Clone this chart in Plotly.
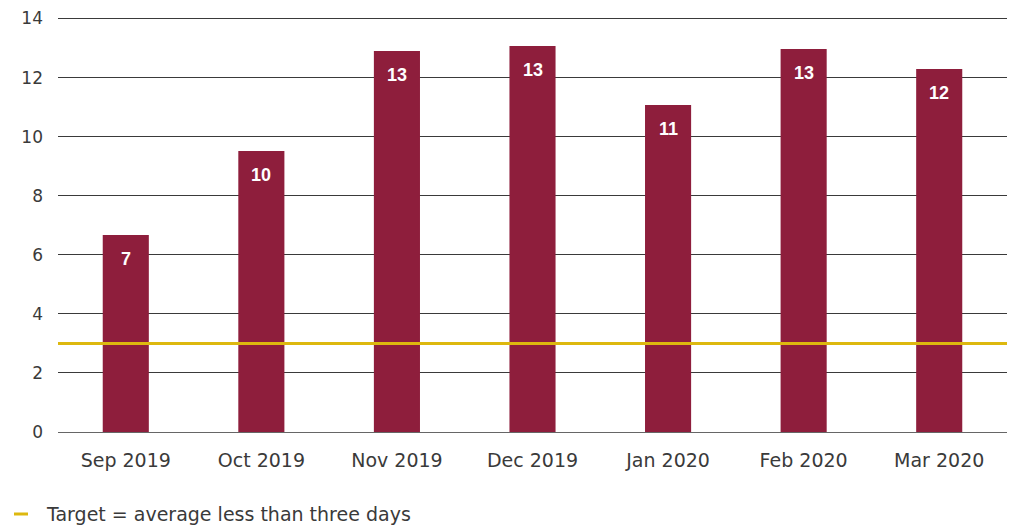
import plotly.graph_objects as go

# Monthly average (days) and the target threshold
months = ["Sep 2019", "Oct 2019", "Nov 2019", "Dec 2019", "Jan 2020", "Feb 2020", "Mar 2020"]
avg_days = [6.67, 9.51, 12.9, 13.07, 11.07, 12.97, 12.29]
target_days = 3
y_ticks = [0, 2, 4, 6, 8, 10, 12, 14]
legend_text = "Target = average less than three days"

BAR_COLOR = "#8E1E3C"
TARGET_COLOR = "#DDB80F"
TEXT_COLOR = "#3a3a3a"
FONT = "DejaVu Sans, Arial, sans-serif"
LABEL_FONT = "Liberation Sans, Arial, sans-serif"

fig = go.Figure()
fig.add_trace(go.Bar(
    x=months,
    y=avg_days,
    marker=dict(color=BAR_COLOR, line=dict(width=0)),
    width=0.34,
    showlegend=False,
    hoverinfo="skip",
))

# Rounded value labels inside the top of each bar
for m, v in zip(months, avg_days):
    fig.add_annotation(
        x=m, y=v, text=f"<b>{v:.0f}</b>", showarrow=False,
        yanchor="middle", yshift=-24,
        font=dict(family=LABEL_FONT, size=18, color="white"),
    )

# Target line across the plot
fig.add_shape(
    type="line", xref="paper", x0=0, x1=1, yref="y", y0=target_days, y1=target_days,
    line=dict(color=TARGET_COLOR, width=3), layer="above",
)

# Legend key below the chart
PLOT_W, PLOT_H = 949, 415
fig.add_shape(
    type="line", xref="paper", yref="paper",
    x0=-44 / PLOT_W, x1=-30 / PLOT_W, y0=-82 / PLOT_H, y1=-82 / PLOT_H,
    line=dict(color=TARGET_COLOR, width=3),
)
fig.add_annotation(
    xref="paper", yref="paper", x=-14 / PLOT_W, y=-82 / PLOT_H,
    xanchor="left", yanchor="middle", showarrow=False,
    text=legend_text, font=dict(family=FONT, size=19, color=TEXT_COLOR),
)

fig.update_layout(
    width=1011, height=526,
    margin=dict(l=58, r=4, t=17, b=94),
    paper_bgcolor="white", plot_bgcolor="white",
    font=dict(family=FONT, color=TEXT_COLOR),
    xaxis=dict(
        showgrid=False, showline=False, zeroline=False,
        tickfont=dict(size=19, color=TEXT_COLOR),
        ticks="", ticklabelstandoff=15,
    ),
    yaxis=dict(
        range=[0, 14.05], tickvals=y_ticks,
        showgrid=True, gridcolor="#3a3a3a", gridwidth=1,
        zeroline=True, zerolinecolor="#666666", zerolinewidth=1,
        showline=False, ticks="",
        tickfont=dict(size=17, color=TEXT_COLOR),
        ticklabelstandoff=14,
    ),
)

fig.write_html("out.html")
